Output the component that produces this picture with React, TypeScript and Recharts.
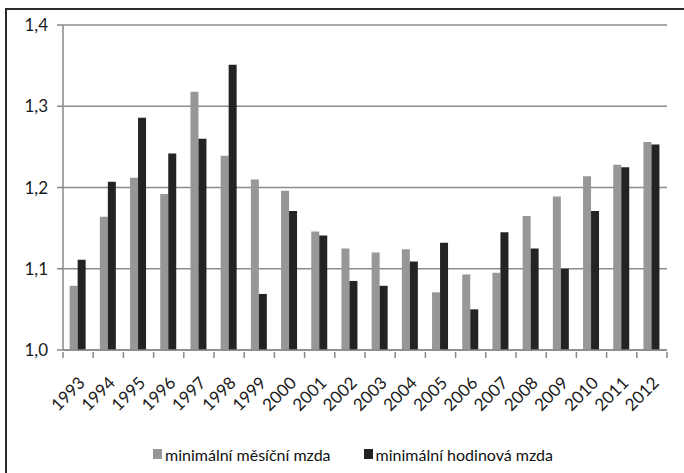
import { BarChart, Bar, XAxis, YAxis, CartesianGrid, Legend } from "recharts";

const years = ["1993", "1994", "1995", "1996", "1997", "1998", "1999", "2000", "2001", "2002", "2003", "2004", "2005", "2006", "2007", "2008", "2009", "2010", "2011", "2012"];
const monthly = [1.079, 1.164, 1.212, 1.192, 1.318, 1.239, 1.21, 1.196, 1.146, 1.125, 1.12, 1.124, 1.071, 1.093, 1.095, 1.165, 1.189, 1.214, 1.228, 1.256];
const hourly = [1.111, 1.207, 1.286, 1.242, 1.26, 1.351, 1.069, 1.171, 1.141, 1.085, 1.079, 1.109, 1.132, 1.05, 1.145, 1.125, 1.1, 1.171, 1.225, 1.253];
const yTicks = [1.0, 1.1, 1.2, 1.3, 1.4];
const seriesOrder = ["monthly", "hourly"];

const data = years.map((year, i) => ({ year, monthly: monthly[i], hourly: hourly[i] }));

const FONT = "Lato, 'DejaVu Sans', sans-serif";
const BAND = 604 / years.length;

function YearTick(props: any) {
  const { x, y, payload, index } = props;
  const half = BAND / 2;
  const ax = x + 8;
  const ay = y + 24;
  return (
    <g>
      <line x1={x - half} y1={y - 8} x2={x - half} y2={y - 2} stroke="#888" strokeWidth={1.5} />
      {index === years.length - 1 && (
        <line x1={x + half} y1={y - 8} x2={x + half} y2={y - 2} stroke="#888" strokeWidth={1.5} />
      )}
      <text
        x={ax}
        y={ay}
        transform={`rotate(-45, ${ax}, ${ay})`}
        textAnchor="end"
        fontFamily={FONT}
        fontSize={17}
        fill="#1a1a1a"
      >
        {payload.value}
      </text>
    </g>
  );
}

function LegendBox(props: any) {
  const payload = [...(props.payload || [])].sort(
    (a: any, b: any) => seriesOrder.indexOf(a.dataKey) - seriesOrder.indexOf(b.dataKey)
  );
  return (
    <div style={{ display: "flex", justifyContent: "center", height: 30, alignItems: "center", paddingLeft: 22, fontFamily: FONT, fontSize: 16, color: "#111" }}>
      {payload.map((p: any, i: number) => (
        <span key={i} style={{ display: "flex", alignItems: "center", marginRight: i === 0 ? 33 : 0 }}>
          <span style={{ width: 9, height: 10, background: p.color, marginRight: 3, display: "inline-block" }} />
          {p.value}
        </span>
      ))}
    </div>
  );
}

export default function App() {
  return (
    <div style={{ position: "absolute", left: 0, top: 0, width: 684, height: 473, background: "#fff", overflow: "hidden" }}>
      <div style={{ position: "absolute", left: 5, top: 8, width: 700, height: 500, borderLeft: "2px solid #2a2a2a", borderTop: "2px solid #2a2a2a" }} />
      <BarChart
        width={684}
        height={473}
        data={data}
        margin={{ top: 25, right: 17, left: 8, bottom: 4 }}
        barCategoryGap="22%"
        barGap={0}
      >
        <CartesianGrid vertical={false} stroke="#8c8c8c" strokeWidth={1.5} />
        <XAxis
          dataKey="year"
          interval={0}
          height={89}
          tickLine={false}
          axisLine={{ stroke: "#888", strokeWidth: 1.5 }}
          tick={<YearTick />}
          tickSize={8}
        />
        <YAxis
          width={55}
          domain={[1.0, 1.4]}
          ticks={yTicks}
          tickSize={6}
          tickLine={{ stroke: "#888", strokeWidth: 1.5 }}
          axisLine={{ stroke: "#888", strokeWidth: 1.5 }}
          tickFormatter={(v: number) => v.toFixed(1).replace(".", ",")}
          tick={{ fontFamily: FONT, fontSize: 17, fill: "#1a1a1a" }}
          tickMargin={9}
        />
        <Legend verticalAlign="bottom" content={<LegendBox />} wrapperStyle={{ left: 0, width: 684 }} />
        <Bar dataKey="monthly" name="minimální měsíční mzda" fill="#979797" isAnimationActive={false} />
        <Bar dataKey="hourly" name="minimální hodinová mzda" fill="#232323" isAnimationActive={false} />
      </BarChart>
    </div>
  );
}
